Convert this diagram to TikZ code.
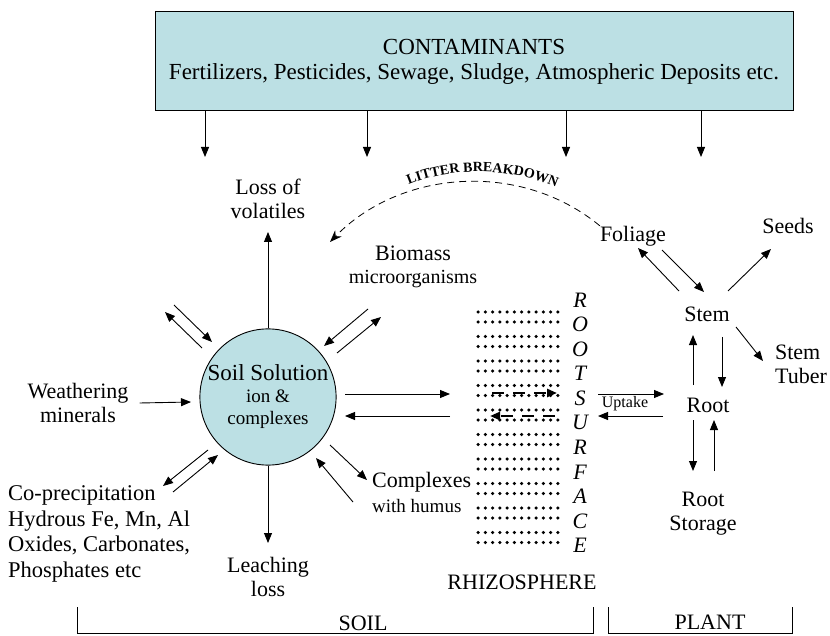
\documentclass[tikz,border=0pt]{standalone}
\usepackage{fontspec}
\setmainfont{Liberation Serif}
\usepackage{tikz}
\usetikzlibrary{positioning,calc,arrows.meta,decorations.text}
\definecolor{PaleCyan}{RGB}{188,224,228}

\tikzset{
    arr/.style={-{Triangle[length=10pt,width=8pt]},line width=0.9pt},
    big/.style={font=\fontsize{22}{24}\selectfont,inner sep=0pt,align=center},
    mid/.style={font=\fontsize{19}{22}\selectfont,inner sep=0pt,align=center},
    tiny/.style={font=\fontsize{16}{18}\selectfont,inner sep=0pt},
    rootletter/.style={font=\fontsize{22}{24}\selectfont\itshape,inner sep=0pt},
    dashy/.style={-{Triangle[length=10pt,width=8pt]},line width=2.6pt,dash pattern=on 12pt off 9pt},
}

\begin{document}
\begin{tikzpicture}[x=1pt,y=-1pt]
    \useasboundingbox (0,0) rectangle (830,636);
    \node[draw,fill=PaleCyan,line width=1pt,minimum width=638pt,minimum height=99pt,big,
        font=\fontsize{23}{25}\selectfont] (cont) at (474,61.5)
        {CONTAMINANTS\\Fertilizers, Pesticides, Sewage, Sludge, Atmospheric Deposits etc.};
    \foreach \x/\n in {205/a,367/b,566/c,701/d}{
        \coordinate (drop\n) at (\x,157);
        \draw[arr] (cont.south -| drop\n) -- (drop\n);
    }

    \node[circle,draw,fill=PaleCyan,minimum size=130pt,inner sep=0pt,line width=0.9pt,align=center,
        font=\fontsize{19}{22}\selectfont] (sol) at (268,397)
        {{\fontsize{23}{25}\selectfont Soil Solution}\\ion \&\\complexes};

    \node[big] (loss) at (268,199) {Loss of\\volatiles};
    \node[big] (bio) at (413,253) {Biomass};
    \node[mid,font=\fontsize{20}{22}\selectfont] (micro) at (413,279) {microorganisms};
    \node[big] (wea) at (78,403) {Weathering\\minerals};
    \node[big,font=\fontsize{22.5}{25.5}\selectfont,align=left,anchor=west] (cop) at (8,534)
        {Co-precipitation\\Hydrous Fe, Mn, Al\\Oxides, Carbonates,\\Phosphates etc};
    \node[big] (leach) at (268,577) {Leaching\\loss};
    \node[big,anchor=west] (cplx) at (372,482) {Complexes};
    \node[mid,anchor=west] (humus) at (372,506) {with humus};
    \node[big] (rhizo) at (522,582) {RHIZOSPHERE};
    \node[big] (soil) at (363,623) {SOIL};
    \node[big] (plant) at (710,622) {PLANT};

    \node[big] (fol) at (633,236) {Foliage};
    \node[big] (seeds) at (788,226) {Seeds};
    \node[big] (stem) at (707,314) {Stem};
    \node[big,align=left] (tuber) at (801,364) {Stem\\Tuber};
    \node[big] (root) at (708,405) {Root};
    \node[big] (store) at (703,514) {Root\\Storage};
    \node[tiny] (up) at (625,404) {Uptake};

    \foreach \l [count=\i from 0] in {R,O,O,T,S,U,R,F,A,C,E}
        \node[rootletter] (rs\i) at (580,{300+24.55*\i}) {\l};

    \foreach \r in {0,...,9}
        \foreach \s in {0,10}
            \foreach \c in {0,...,11}
                \fill ({478+7.27*\c},{312+24.5*\r+\s}) circle (1.75pt);

    \draw[arr] (sol.north) -- ($(loss)+(0,33)$);
    \draw[arr] (sol.south) -- ($(leach)+(0,-34)$);
    \draw[arr] ([xshift=11pt]wea.east) -- ($(sol)+(-77,5)$);
    \foreach \fx/\fy/\tx/\ty in {-66/-49/-103/-85, -94/-92/-56/-55, 100/-88/56/-51, 69/-44/113/-80,
        -60/53/-105/89, -95/95/-50/58, 62/48/99/83, 85/105/48/61, 77/-3/182/-3, 182/19/77/19}
        \draw[arr] ($(sol)+(\fx,\fy)$) -- ($(sol)+(\tx,\ty)$);

    \draw[dashy] ($(rs4)+(-88,-5.2)$) -- ($(rs4)+(-23,-5.2)$);
    \draw[dashy] ($(rs5)+(-25,-6.75)$) -- ($(rs5)+(-90,-6.75)$);
    \draw[arr] ($(rs4)+(18,-4.2)$) -- ($(root)+(-44,-11)$);
    \draw[arr] ($(root)+(-45,11)$) -- ($(rs5)+(18,-6.75)$);

    \draw[arr] ($(stem)+(-28,-23)$) -- ($(fol)+(5,12)$);
    \draw[arr] ($(fol)+(29,14)$) -- ($(stem)+(-3,-22)$);
    \draw[arr] ($(stem)+(21,-23)$) -- ($(seeds)+(-17,23)$);
    \draw[arr] ($(stem)+(29,13)$) -- ($(tuber)+(-38,-3)$);
    \draw[arr] ($(root)+(-15,-20)$) -- ($(stem)+(-14,21)$);
    \draw[arr] ($(stem)+(15,23)$) -- ($(root)+(14,-18)$);
    \draw[arr] ($(root)+(-15,15)$) -- ($(store)+(-10,-43)$);
    \draw[arr] ($(store)+(11,-43)$) -- ($(root)+(6,15)$);

    \draw[dash pattern=on 7pt off 5pt,line width=0.8pt,-{Stealth[length=12pt,width=9pt]}]
        (fol.north west) .. controls (520,160) and (400,170) .. ($(loss)+(62,43)$);
    \path[decorate,decoration={text along path,text align=center,
        text={|\fontsize{14}{14}\selectfont\bfseries|LITTER BREAKDOWN}}]
        (402,188) .. controls (448,166) and (512,166) .. (563,190);

    \draw[line width=1pt] (77,607) |- (593,633) -- (593,607);
    \draw[line width=1pt] (608,607) |- (792,633) -- (792,607);
\end{tikzpicture}
\end{document}
